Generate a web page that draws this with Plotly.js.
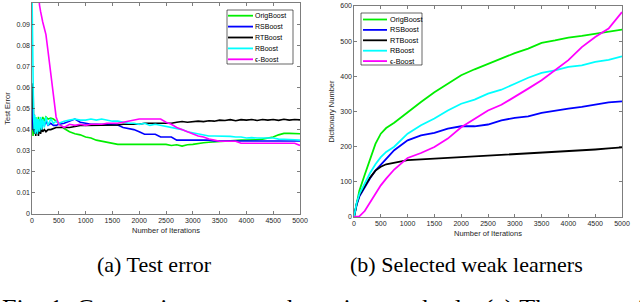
<!DOCTYPE html>
<html>
<head>
<meta charset="utf-8">
<script src="https://cdn.plot.ly/plotly-3.0.1.min.js"></script>
<style>
  html, body { margin: 0; padding: 0; background: #fff; }
  #chart { width: 640px; height: 302px; }
</style>
</head>
<body>
<div id="chart"></div>
<script>
// ---------------- DATA ----------------
const seriesNames = ['OrigBoost', 'RSBoost', 'RTBoost', 'RBoost', 'ϵ-Boost'];

// (a) Test error vs. number of iterations
const iterLeft = [0,10,20,30,40,50,60,70,80,90,100,120,140,160,180,200,230,260,300,350,400,450,500,
  600,700,800,900,1000,1100,1200,1300,1400,1500,1600,1700,1800,1900,2000,2100,2200,2300,2400,2500,
  2600,2700,2800,2900,3000,3100,3200,3300,3400,3500,3600,3700,3800,3900,4000,4100,4200,4300,4400,
  4500,4600,4700,4800,4900,5000];

const origErr = [0.048,0.039,0.037,0.044,0.038,0.045,0.039,0.046,0.040,0.045,0.041,
  0.046,0.042,0.045,0.043,0.046,
  0.044,0.046,0.045,0.0455,0.045,0.044,0.043,
  0.0405,0.039,0.038,0.0375,0.0365,0.036,0.035,0.0345,0.034,0.0335,0.033,0.033,0.033,0.033,0.033,
  0.033,0.033,0.033,0.033,0.033,0.0325,0.0328,0.0322,0.0328,0.033,0.0335,0.0338,0.034,0.0342,0.0345,
  0.0345,0.0348,0.0348,0.035,0.035,0.035,0.0352,0.0355,0.036,0.0365,0.0375,0.0382,0.0382,0.038,0.038];

const rsErr = [0.052,0.044,0.040,0.046,0.039,0.044,0.040,0.043,0.041,0.044,0.040,
  0.043,0.041,0.044,0.041,0.043,
  0.042,0.044,0.042,0.043,0.042,0.042,0.0425,
  0.043,0.044,0.045,0.0435,0.043,0.0425,0.0425,0.0425,0.0425,0.0425,0.0422,0.041,0.0405,0.040,0.039,
  0.0378,0.0378,0.0378,0.0365,0.0365,0.0365,0.035,0.035,0.035,0.035,0.035,0.035,0.035,0.0346,0.0346,
  0.0346,0.0346,0.0346,0.0346,0.0346,0.0346,0.0346,0.0346,0.0346,0.0346,0.0346,0.0346,0.0346,0.0346,0.0346];

const rtErr = [0.050,0.054,0.062,0.040,0.047,0.038,0.045,0.037,0.044,0.038,0.043,
  0.037,0.042,0.038,0.041,0.039,
  0.040,0.039,0.040,0.040,0.0405,0.041,0.041,
  0.041,0.041,0.0415,0.042,0.042,0.042,0.042,0.042,0.0422,0.0422,0.0422,0.0425,0.0425,0.0425,0.0425,
  0.043,0.043,0.043,0.043,0.043,0.043,0.0435,0.0438,0.0435,0.0438,0.044,0.0438,0.0442,0.044,0.0445,
  0.0443,0.0447,0.0442,0.0447,0.0445,0.0448,0.0443,0.0448,0.0445,0.0448,0.0444,0.0449,0.0445,0.0448,0.0446];

const rErr = [0.105,0.072,0.056,0.046,0.040,0.047,0.038,0.046,0.039,0.045,0.038,
  0.045,0.039,0.046,0.040,0.045,
  0.041,0.046,0.042,0.045,0.043,0.044,0.043,
  0.044,0.0445,0.045,0.0445,0.0445,0.045,0.0445,0.045,0.0445,0.044,0.044,0.0435,0.043,0.043,0.0425,
  0.043,0.042,0.0425,0.042,0.0415,0.041,0.0405,0.040,0.039,0.0385,0.038,0.0375,0.037,0.037,0.037,
  0.0368,0.0368,0.0365,0.0365,0.036,0.0362,0.036,0.036,0.0358,0.036,0.0355,0.0355,0.0352,0.0352,0.035];

const epsErr = [null,null,null,null,null,null,null,null,null,null,0.112,
  0.104,0.099,0.096,0.093,0.091,
  0.088,0.085,0.077,0.066,0.054,0.046,0.0425,
  0.041,0.0425,0.042,0.0425,0.042,0.0425,0.0425,0.0425,0.043,0.043,0.043,0.0435,0.044,0.0445,0.045,
  0.045,0.045,0.045,0.045,0.0435,0.0425,0.041,0.040,0.039,0.038,0.037,0.0365,0.0355,0.035,0.0345,
  0.0345,0.0345,0.0345,0.0335,0.0335,0.0335,0.0335,0.0335,0.0335,0.0335,0.0335,0.0335,0.0335,0.0335,0.0325];

// (b) Dictionary number (selected weak learners) vs. number of iterations
const iterRight = [0,50,100,200,300,400,500,600,750,1000,1250,1500,1750,2000,2250,2500,2750,3000,
  3250,3500,3750,4000,4250,4500,4750,5000];
const origDict = [0,40,75,120,165,208,237,253,268,298,327,355,379,403,420,436,450,466,479,495,502,510,515,521,526,533];
const rsDict   = [0,35,58,85,110,132,148,165,190,218,232,239,251,258,258,263,275,282,286,296,303,308,313,320,326,329];
const rtDict   = [0,38,62,88,112,132,143,150,155,162,164,165,168,170,172,174,177,180,182,183,186,188,190,192,195,198];
const rDict    = [0,40,65,95,125,150,170,185,200,237,261,280,303,322,334,351,362,379,396,410,417,427,431,441,447,457];
const epsDict  = [0,0,2,17,42,68,90,109,135,168,182,199,223,255,280,303,319,341,365,389,417,446,483,512,536,583];

// Tick labels
const iterTicks = [0,500,1000,1500,2000,2500,3000,3500,4000,4500,5000];
const errTickVals = [0,0.01,0.02,0.03,0.04,0.05,0.06,0.07,0.08,0.09,0.1];
const errTickText = ['0','0.01','0.02','0.03','0.04','0.05','0.06','0.07','0.08','0.09','0.1'];
const dictTicks = [0,100,200,300,400,500,600];

// ---------------- STYLE ----------------
const W = 640, H = 302;
const colors = ['#00ee00', '#0000ff', '#000000', '#00ffff', '#ff00ff'];
const axisColor = '#262626';
const sansFont = 'Liberation Sans';
const serifFont = 'Liberation Serif';
const px = v => v / W;
const py = v => 1 - v / H;

const leftY = [origErr, rsErr, rtErr, rErr, epsErr];
const rightY = [origDict, rsDict, rtDict, rDict, epsDict];

const traces = [];
seriesNames.forEach((name, i) => {
  traces.push({ x: iterLeft, y: leftY[i], name: name, type: 'scatter', mode: 'lines',
    line: { color: colors[i], width: 1.6 }, xaxis: 'x', yaxis: 'y', showlegend: false,
    connectgaps: false });
});
seriesNames.forEach((name, i) => {
  traces.push({ x: iterRight, y: rightY[i], name: name, type: 'scatter', mode: 'lines',
    line: { color: colors[i], width: 1.8 }, xaxis: 'x2', yaxis: 'y2', showlegend: false });
});

function axisBase() {
  return {
    showline: true, linecolor: axisColor, linewidth: 0.6, mirror: 'ticks',
    ticks: 'inside', ticklen: 3, tickwidth: 0.6, tickcolor: axisColor,
    showgrid: false, zeroline: false, automargin: false,
    tickfont: { family: sansFont, size: 7, color: axisColor }
  };
}

const xaxis = Object.assign(axisBase(), {
  domain: [px(32), px(300)], range: [0, 5000], tickmode: 'array', tickvals: iterTicks,
  anchor: 'y',
  title: { text: 'Number of Iterations', font: { family: sansFont, size: 7.5, color: axisColor }, standoff: 4 }
});
const yaxis = Object.assign(axisBase(), {
  domain: [py(214), py(3)], range: [0, 0.1], tickmode: 'array', tickvals: errTickVals, ticktext: errTickText,
  anchor: 'x',
  title: { text: 'Test Error', font: { family: sansFont, size: 7.5, color: axisColor }, standoff: 4 }
});
const xaxis2 = Object.assign(axisBase(), {
  domain: [px(354), px(622)], range: [0, 5000], tickmode: 'array', tickvals: iterTicks,
  anchor: 'y2',
  title: { text: 'Number of Iterations', font: { family: sansFont, size: 7.5, color: axisColor }, standoff: 4 }
});
const yaxis2 = Object.assign(axisBase(), {
  domain: [py(217), py(6)], range: [0, 600], tickmode: 'array', tickvals: dictTicks,
  anchor: 'x2',
  title: { text: 'Dictionary Number', font: { family: sansFont, size: 7.5, color: axisColor }, standoff: 4 }
});

// custom compact legends (MATLAB style)
const shapes = [];
const annotations = [];
function addLegend(box, lineX0, lineX1, textX, itemY0, itemStep, fontSize) {
  shapes.push({ type: 'rect', xref: 'paper', yref: 'paper',
    x0: px(box[0]), x1: px(box[1]), y0: py(box[3]), y1: py(box[2]),
    line: { color: '#000', width: 0.6 }, fillcolor: '#fff', layer: 'above' });
  seriesNames.forEach((name, i) => {
    const yy = itemY0 + i * itemStep;
    shapes.push({ type: 'line', xref: 'paper', yref: 'paper',
      x0: px(lineX0), x1: px(lineX1), y0: py(yy), y1: py(yy),
      line: { color: colors[i], width: 1.8 }, layer: 'above' });
    annotations.push({ xref: 'paper', yref: 'paper', x: px(textX), y: py(yy),
      xanchor: 'left', yanchor: 'middle', showarrow: false, text: name,
      font: { family: sansFont, size: fontSize, color: '#000' } });
  });
}
addLegend([227, 293, 10, 64], 228, 253, 253, 15.7, 10.9, 7);
addLegend([361, 422, 13, 65], 363, 387, 388, 19.5, 10.4, 7.3);

// sub-captions and figure caption
annotations.push({ xref: 'paper', yref: 'paper', x: px(154), y: py(264), xanchor: 'center', yanchor: 'middle',
  showarrow: false, text: '(a) Test error', font: { family: serifFont, size: 22, color: '#000' } });
annotations.push({ xref: 'paper', yref: 'paper', x: px(466), y: py(264), xanchor: 'center', yanchor: 'middle',
  showarrow: false, text: '(b) Selected weak learners', font: { family: serifFont, size: 22, color: '#000' } });
annotations.push({ xref: 'paper', yref: 'paper', x: px(0), y: py(308), xanchor: 'left', yanchor: 'middle',
  showarrow: false, text: 'Fig. 1: Comparison among boosting methods. (a) The error of',
  font: { family: serifFont, size: 26, color: '#000' } });

const layout = {
  width: W, height: H, margin: { l: 0, r: 0, t: 0, b: 0 },
  paper_bgcolor: '#fff', plot_bgcolor: '#fff', showlegend: false,
  xaxis, yaxis, xaxis2, yaxis2, shapes, annotations
};

Plotly.newPlot('chart', traces, layout, { staticPlot: true, displayModeBar: false });
</script>
</body>
</html>
